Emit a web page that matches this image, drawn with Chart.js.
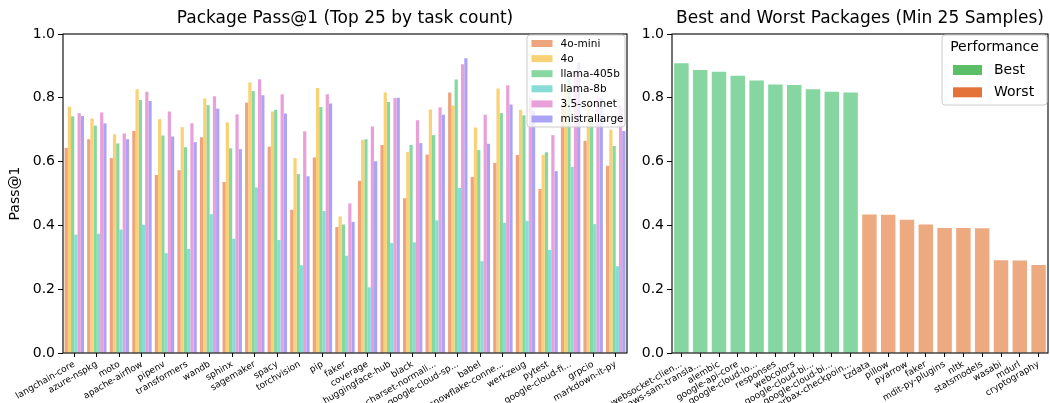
<!DOCTYPE html>
<html>
<head>
<meta charset="utf-8">
<script src="https://cdn.jsdelivr.net/npm/chart.js@4.4.1/dist/chart.umd.min.js"></script>
<style>
  body { margin: 0; background: #fff; }
  #wrap { position: relative; width: 1050px; height: 403px; }
  canvas { position: absolute; top: 0; }
  #pkgChart { left: 0; }
  #bestWorstChart { left: 560px; }
</style>
</head>
<body>
<div id="wrap">
  <canvas id="pkgChart" width="635" height="403"></canvas>
  <canvas id="bestWorstChart" width="490" height="403"></canvas>
</div>
<script>
// left panel: top 25 packages by task count
const packages = ['langchain-core', 'azure-nspkg', 'moto', 'apache-airflow', 'pipenv', 'transformers', 'wandb', 'sphinx',
  'sagemaker', 'spacy', 'torchvision', 'pip', 'faker', 'coverage', 'huggingface-hub', 'black', 'charset-normali...',
  'google-cloud-sp...', 'babel', 'snowflake-conne...', 'werkzeug', 'pytest', 'google-cloud-fi...', 'grpcio', 'markdown-it-py'];
const models = ['4o-mini', '4o', 'llama-405b', 'llama-8b', '3.5-sonnet', 'mistrallarge'];
const miniScores    = [0.643,0.670,0.611,0.696,0.558,0.573,0.676,0.536,0.785,0.647,0.449,0.613,0.395,0.540,0.652,0.485,0.622,0.817,0.552,0.596,0.621,0.514,0.780,0.665,0.587];
const gpt4oScores   = [0.772,0.735,0.686,0.827,0.733,0.708,0.798,0.723,0.848,0.757,0.611,0.831,0.428,0.668,0.817,0.630,0.763,0.776,0.707,0.829,0.762,0.621,0.840,0.780,0.700];
const llama405Scores= [0.742,0.713,0.657,0.793,0.682,0.645,0.777,0.642,0.821,0.762,0.561,0.771,0.403,0.670,0.787,0.652,0.683,0.857,0.636,0.752,0.745,0.629,0.860,0.740,0.649];
const llama8Scores  = [0.371,0.374,0.387,0.402,0.313,0.326,0.435,0.358,0.519,0.354,0.275,0.445,0.305,0.206,0.345,0.347,0.416,0.517,0.288,0.408,0.414,0.323,0.583,0.404,0.272];
const sonnetScores  = [0.752,0.754,0.688,0.819,0.757,0.720,0.805,0.748,0.858,0.811,0.695,0.811,0.469,0.710,0.799,0.730,0.770,0.905,0.747,0.839,0.800,0.683,0.880,0.800,0.776];
const mistralScores = [0.743,0.720,0.670,0.790,0.679,0.661,0.766,0.639,0.808,0.751,0.554,0.782,0.411,0.601,0.800,0.658,0.747,0.924,0.656,0.779,0.760,0.570,0.911,0.800,0.696];

// right panel: best / worst packages
const bestPackages = ['websocket-clien...', 'aws-sam-transla...', 'alembic', 'google-api-core', 'google-cloud-lo...',
  'responses', 'webcolors', 'google-cloud-bi...', 'google-cloud-bi...', 'orbax-checkpoin...'];
const bestScores = [0.908,0.887,0.882,0.869,0.854,0.842,0.840,0.827,0.819,0.817];
const worstPackages = ['tzdata', 'pillow', 'pyarrow', 'faker', 'mdit-py-plugins', 'nltk', 'statsmodels', 'wasabi', 'mdurl', 'cryptography'];
const worstScores = [0.434,0.433,0.418,0.403,0.392,0.392,0.391,0.291,0.290,0.276];

const yTicks = [0, 0.2, 0.4, 0.6, 0.8, 1.0];

const FONT = 'DejaVu Sans';
const modelColors = ['#EEA47C', '#F8D275', '#86D7A0', '#86DDD6', '#E8A0DA', '#ABA4F6'];

// draws the matplotlib-like box round the plot area
const axesFrame = {
  id: 'axesFrame',
  afterDatasetsDraw(chart) {
    const a = chart.chartArea, ctx = chart.ctx;
    ctx.save();
    ctx.strokeStyle = '#000';
    ctx.lineWidth = 1.1;
    ctx.strokeRect(a.left, a.top, a.right - a.left, a.bottom - a.top);
    ctx.restore();
  }
};

// title centred over the plot area (not the canvas)
const axesTitle = {
  id: 'axesTitle',
  afterDraw(chart, args, opts) {
    const a = chart.chartArea, ctx = chart.ctx;
    ctx.save();
    ctx.font = '17px "' + FONT + '"';
    ctx.fillStyle = '#000';
    ctx.textAlign = 'center';
    ctx.textBaseline = 'middle';
    ctx.fillText(opts.text, (a.left + a.right) / 2, opts.y);
    ctx.restore();
  }
};

// legend box inside the plot, upper right
const boxLegend = {
  id: 'boxLegend',
  afterDraw(chart, args, o) {
    const a = chart.chartArea, ctx = chart.ctx;
    const x0 = a.right - o.rightGap - o.w, y0 = a.top + o.topGap;
    ctx.save();
    ctx.beginPath();
    ctx.roundRect(x0, y0, o.w, o.h, 3);
    ctx.fillStyle = 'rgba(255,255,255,0.8)';
    ctx.fill();
    ctx.strokeStyle = '#cccccc';
    ctx.lineWidth = 1;
    ctx.stroke();
    ctx.fillStyle = '#000';
    ctx.textBaseline = 'middle';
    if (o.title) {
      ctx.font = o.fontSize + 'px "' + FONT + '"';
      ctx.textAlign = 'center';
      ctx.fillText(o.title, x0 + o.w / 2, y0 + o.titleY);
    }
    ctx.font = o.fontSize + 'px "' + FONT + '"';
    ctx.textAlign = 'left';
    chart.data.datasets.forEach((ds, i) => {
      const cy = y0 + o.row0 + i * o.rowGap;
      ctx.fillStyle = o.colors ? o.colors[i] : ds.backgroundColor;
      ctx.fillRect(x0 + o.patchX, cy - o.patchH / 2, o.patchW, o.patchH);
      ctx.fillStyle = '#000';
      ctx.fillText(ds.label, x0 + o.textX, cy + 0.5);
    });
    ctx.restore();
  }
};

function yAxis(width, title) {
  return {
    min: 0, max: 1,
    afterFit: s => { s.width = width; },
    afterBuildTicks: s => { s.ticks = yTicks.map(v => ({ value: v })); },
    ticks: { color: '#000', font: { family: FONT, size: 14 }, padding: 3, callback: v => v.toFixed(1) },
    grid: { drawOnChartArea: false, drawTicks: true, tickLength: 5, tickColor: '#000', tickWidth: 1 },
    border: { display: false },
    title: title ? { display: true, text: title, color: '#000', font: { family: FONT, size: 14 }, padding: { top: 7, bottom: 0 } } : { display: false }
  };
}

function xAxis() {
  return {
    afterFit: s => { s.height = 50; s.paddingLeft = 0; s.paddingRight = 0; },
    ticks: { color: '#000', font: { family: FONT, size: 9 }, minRotation: 30, maxRotation: 30, autoSkip: false, padding: 2 },
    grid: { offset: false, drawOnChartArea: false, drawTicks: true, tickLength: 4, tickColor: '#000', tickWidth: 1 },
    border: { display: false }
  };
}

const modelSeries = [miniScores, gpt4oScores, llama405Scores, llama8Scores, sonnetScores, mistralScores];

new Chart(document.getElementById('pkgChart'), {
  type: 'bar',
  data: {
    labels: packages,
    datasets: models.map((m, i) => ({
      label: m,
      data: modelSeries[i],
      backgroundColor: modelColors[i],
      borderWidth: 0,
      categoryPercentage: 0.86,
      barPercentage: 1.0
    }))
  },
  options: {
    responsive: false,
    animation: false,
    layout: { padding: { top: 34, right: 8, left: 0, bottom: 0 } },
    plugins: {
      legend: { display: false },
      tooltip: { enabled: false },
      axesTitle: { text: 'Package Pass@1 (Top 25 by task count)', y: 19 },
      boxLegend: { w: 98, h: 92, rightGap: 2, topGap: 1, fontSize: 10.5, patchX: 4.5, patchW: 21, patchH: 7,
        textX: 33.5, row0: 8.5, rowGap: 15.1 }
    },
    scales: { x: xAxis(), y: yAxis(63, 'Pass@1') }
  },
  plugins: [axesFrame, axesTitle, boxLegend]
});

const bwLabels = bestPackages.concat(worstPackages);

new Chart(document.getElementById('bestWorstChart'), {
  type: 'bar',
  data: {
    labels: bwLabels,
    datasets: [
      {
        label: 'Best',
        data: bestScores.concat(worstScores.map(() => null)),
        backgroundColor: '#85D6A0',
        grouped: false,
        categoryPercentage: 1.0,
        barPercentage: 0.77
      },
      {
        label: 'Worst',
        data: bestScores.map(() => null).concat(worstScores),
        backgroundColor: '#EDAA80',
        grouped: false,
        categoryPercentage: 1.0,
        barPercentage: 0.77
      }
    ]
  },
  options: {
    responsive: false,
    animation: false,
    layout: { padding: { top: 34, right: 2, left: 0, bottom: 0 } },
    plugins: {
      legend: { display: false },
      tooltip: { enabled: false },
      axesTitle: { text: 'Best and Worst Packages (Min 25 Samples)', y: 19 },
      boxLegend: { w: 105, h: 70, rightGap: 1, topGap: 1, fontSize: 14, title: 'Performance', titleY: 12.7,
        colors: ['#5BBF67', '#E4733A'], patchX: 11, patchW: 29, patchH: 10, textX: 52, row0: 35, rowGap: 22.3 }
    },
    scales: { x: xAxis(), y: yAxis(112, null) }
  },
  plugins: [axesFrame, axesTitle, boxLegend]
});
</script>
</body>
</html>
